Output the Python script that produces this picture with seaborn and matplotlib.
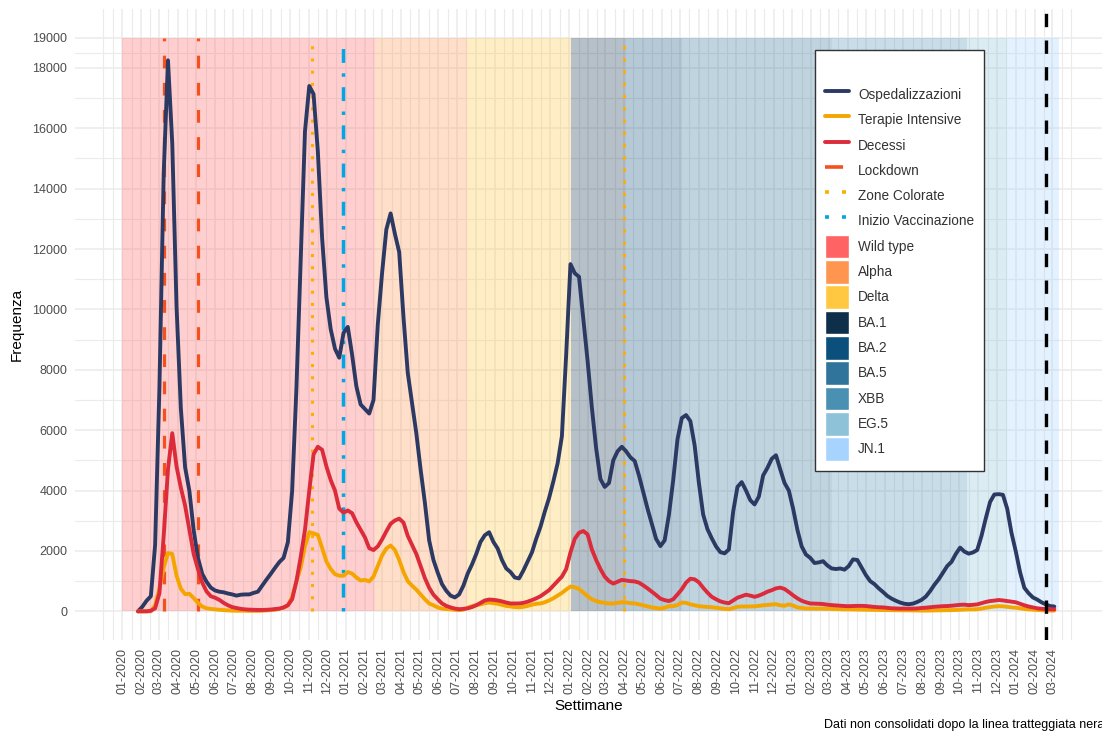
import pandas as pd
import seaborn as sns
import matplotlib.pyplot as plt
from matplotlib.lines import Line2D
from matplotlib.patches import Patch

sns.set_theme(style="white")
plt.rcParams['font.family'] = ['Liberation Sans', 'DejaVu Sans']

# weekly values, first week 2020-01-27
first_week = "2020-01-27"

ospedalizzazioni = [
    0, 150, 350, 500, 2200, 7400, 14500, 18250, 15500, 10100,
    6740, 4770, 3990, 2680, 1770, 1240, 980, 785, 690, 650,
    630, 590, 560, 520, 550, 560, 560, 610, 650, 850,
    1050, 1240, 1440, 1630, 1770, 2290, 3990, 7390, 11700, 15900,
    17400, 17130, 15240, 12360, 10400, 9350, 8700, 8400, 9220, 9420,
    8500, 7450, 6850, 6700, 6550, 7000, 9500, 11200, 12650, 13180,
    12500, 11900, 9750, 7900, 6900, 5900, 4700, 3600, 2350, 1700,
    1280, 900, 680, 520, 460, 560, 850, 1250, 1550, 1900,
    2300, 2520, 2620, 2300, 2080, 1700, 1420, 1300, 1120, 1090,
    1350, 1650, 1950, 2400, 2800, 3300, 3750, 4300, 4900, 5800,
    8500, 11500, 11200, 11080, 9700, 8300, 6750, 5400, 4380, 4120,
    4250, 5000, 5300, 5450, 5300, 5100, 4980, 4500, 3950, 3400,
    2900, 2400, 2160, 2350, 3200, 4350, 5700, 6400, 6500, 6300,
    5500, 4250, 3200, 2720, 2420, 2150, 1960, 1920, 2050, 3300,
    4120, 4280, 4000, 3680, 3540, 3800, 4500, 4750, 5050, 5170,
    4700, 4250, 4000, 3400, 2700, 2150, 1880, 1770, 1600, 1620,
    1660, 1520, 1420, 1400, 1420, 1380, 1500, 1720, 1700, 1450,
    1200, 1000, 900, 760, 640, 510, 420, 350, 290, 250,
    235, 255, 310, 380, 490, 670, 880, 1060, 1280, 1500,
    1640, 1900, 2110, 1980, 1910, 1950, 2030, 2500, 3080, 3620,
    3870, 3880, 3860, 3400, 2600, 1990, 1300, 780, 600, 460,
    390, 300, 230, 175, 160,
]

terapie_intensive = [
    0, 0, 0, 0, 200, 750, 1450, 1930, 1900, 1180,
    750, 570, 580, 440, 280, 160, 100, 80, 65, 50,
    40, 30, 25, 20, 20, 20, 15, 15, 15, 20,
    30, 40, 50, 80, 120, 200, 480, 1000, 1450, 2160,
    2620, 2580, 2530, 2100, 1650, 1400, 1230, 1180, 1180, 1300,
    1250, 1120, 1020, 1040, 990, 1150, 1500, 1850, 2080, 2180,
    2030, 1700, 1300, 1000, 850, 720, 560, 400, 260, 200,
    130, 90, 75, 65, 50, 40, 55, 120, 170, 210,
    230, 270, 290, 270, 250, 215, 180, 160, 140, 130,
    150, 180, 220, 250, 260, 300, 360, 430, 520, 610,
    720, 820, 800, 740, 620, 500, 400, 340, 300, 280,
    260, 260, 280, 300, 290, 270, 260, 230, 200, 160,
    130, 110, 90, 120, 170, 170, 210, 290, 280, 230,
    200, 170, 155, 145, 135, 120, 100, 85, 70, 110,
    150, 160, 160, 160, 165, 180, 200, 210, 225, 235,
    200, 185, 230, 190, 130, 110, 95, 90, 90, 90,
    90, 85, 80, 75, 70, 65, 65, 60, 58, 55,
    52, 50, 48, 45, 42, 40, 38, 35, 32, 30,
    28, 27, 25, 25, 25, 27, 30, 32, 35, 38,
    40, 45, 50, 60, 65, 65, 70, 90, 120, 140,
    160, 170, 165, 150, 130, 120, 100, 80, 65, 55,
    45, 35, 30, 25, 25,
]

decessi = [
    0, 0, 0, 20, 100, 600, 2500, 4700, 5900, 4800,
    4100, 3500, 2700, 1900, 1400, 950, 660, 500, 450, 380,
    280, 200, 140, 110, 80, 65, 55, 50, 45, 45,
    50, 60, 75, 90, 130, 200, 400, 1000, 1800, 2700,
    4000, 5200, 5450, 5350, 4800, 4350, 4000, 3400, 3270, 3340,
    3250, 2950, 2700, 2450, 2090, 2030, 2150, 2380, 2650, 2900,
    3010, 3070, 2940, 2500, 2200, 1900, 1500, 1100, 780, 550,
    400, 260, 180, 130, 90, 70, 80, 100, 140, 200,
    280, 360, 390, 380, 360, 330, 290, 260, 260, 260,
    280, 320, 370, 430, 500, 600, 700, 850, 1000, 1150,
    1400, 1950, 2400, 2600, 2660, 2550, 2050, 1700, 1400, 1150,
    1000, 920, 980, 1040, 1020, 1000, 990, 950, 860, 760,
    650, 540, 420, 370, 340, 400, 560, 730, 950, 1080,
    1060, 960, 780, 620, 480, 400, 330, 290, 270, 360,
    450, 500, 550, 520, 480, 520, 580, 650, 700, 760,
    785, 740, 640, 530, 430, 350, 300, 260, 255, 250,
    240, 220, 205, 195, 185, 175, 170, 175, 180, 180,
    175, 160, 145, 135, 130, 115, 100, 95, 90, 90,
    90, 90, 95, 110, 120, 135, 150, 160, 170, 175,
    185, 200, 215, 220, 205, 215, 230, 270, 310, 340,
    355, 375, 360, 340, 320, 300, 250, 200, 160, 130,
    100, 85, 75, 70, 65,
]

series_colors = {"Ospedalizzazioni": "#2C3A63",
                 "Terapie Intensive": "#F5A500",
                 "Decessi": "#DC2B3B"}

# variant periods (background bands)
variant_names = ["Wild type", "Alpha", "Delta", "BA.1", "BA.2", "BA.5", "XBB", "EG.5", "JN.1"]
variant_start = ["2020-01-01", "2021-02-18", "2021-07-18", "2022-01-04", "2022-04-04",
                 "2022-07-05", "2023-03-07", "2023-10-13", "2023-12-18"]
variant_end = ["2021-02-18", "2021-07-18", "2022-01-04", "2022-04-04", "2022-07-05",
               "2023-03-07", "2023-10-13", "2023-12-18", "2024-03-11"]
variant_colors = ["#FF6363", "#FF9650", "#FFC840", "#0D2F4A", "#0B4F7D",
                  "#30739B", "#4A90B2", "#8EC2D8", "#A6D4FF"]
band_top = 19000

# events
lockdown_dates = ["2020-03-09", "2020-05-04"]
zone_colorate_dates = ["2020-11-06", "2022-04-01"]
vaccinazione_date = "2020-12-27"
non_consolidati_date = "2024-02-19"

y_major = [0, 2000, 4000, 6000, 8000, 10000, 12000, 14000, 16000, 18000, 19000]
y_minor = [1000, 3000, 5000, 7000, 9000, 11000, 13000, 15000, 17000, 18500]

weeks = pd.date_range(first_week, periods=len(ospedalizzazioni), freq="7D")
df = pd.DataFrame({
    "Settimana": weeks,
    "Ospedalizzazioni": ospedalizzazioni,
    "Terapie Intensive": terapie_intensive,
    "Decessi": decessi,
}).melt(id_vars="Settimana", var_name="Serie", value_name="Frequenza")

fig = plt.figure(figsize=(11.02, 7.35), dpi=100)
ax = fig.add_axes([75 / 1102, 95 / 735, 1027 / 1102, 631 / 735])

# background bands
for start, end, color in zip(variant_start, variant_end, variant_colors):
    ax.fill_between(pd.to_datetime([start, end]), 0, band_top,
                    color=color, alpha=0.3, lw=0, zorder=1)

sns.lineplot(data=df, x="Settimana", y="Frequenza", hue="Serie",
             palette=series_colors, linewidth=2.8, legend=False, ax=ax, zorder=4)

ax.vlines(pd.to_datetime(lockdown_dates), 0, band_top, color="#F4511E",
          lw=2.3, linestyles=[(0, (4, 4.5))], zorder=3)
ax.vlines(pd.to_datetime(zone_colorate_dates), 0, band_top, color="#FFAE00",
          lw=2.2, linestyles=[(0, (1, 3))], zorder=3)
ax.vlines(pd.to_datetime([vaccinazione_date]), 0, band_top, color="#00A6E6",
          lw=2.5, linestyles=[(0, (1, 3, 4, 3))], zorder=3)
ax.axvline(pd.to_datetime(non_consolidati_date), color="black", lw=2.4,
           ls=(0, (4, 4)), zorder=5)

# axes, ticks, grid
ax.set_xlim(pd.Timestamp("2019-10-16"), pd.Timestamp("2024-05-21"))
ax.set_ylim(-950, 19950)

month_ticks = pd.date_range("2020-01-01", "2024-03-01", freq="MS")
edges = pd.date_range("2019-12-01", "2024-04-01", freq="MS")
mids = edges[:-1] + (edges[1:] - edges[:-1]) / 2
x_minor = list(mids) + [edges[0], edges[-1]]
ax.set_xticks(month_ticks)
ax.set_xticklabels(month_ticks.strftime("%m-%Y"), rotation=90)
ax.set_xticks(x_minor, minor=True)
ax.set_yticks(y_major)
ax.set_yticklabels([str(v) for v in y_major])
ax.set_yticks(y_minor, minor=True)

ax.set_axisbelow(True)
ax.grid(which="major", color="#EBEBEB", lw=1.1)
ax.grid(which="minor", color="#EBEBEB", lw=0.8)
ax.tick_params(which="both", length=0, labelsize=9, labelcolor="#4D4D4D")
ax.tick_params(axis="y", pad=5.5)
ax.tick_params(axis="x", pad=6)
for side in ["top", "right", "bottom", "left"]:
    ax.spines[side].set_visible(False)

ax.set_xlabel("Settimane", fontsize=11, color="black", labelpad=3)
ax.set_ylabel("Frequenza", fontsize=11, color="black", labelpad=6)

# legend
handles = [
    Line2D([0], [0], color=series_colors["Ospedalizzazioni"], lw=2.8),
    Line2D([0], [0], color=series_colors["Terapie Intensive"], lw=2.8),
    Line2D([0], [0], color=series_colors["Decessi"], lw=2.8),
    Line2D([0], [0], color="#F4511E", lw=2.6, ls=(0, (5, 4))),
    Line2D([0], [0], color="#FFAE00", lw=2.6, ls=(0, (1.1, 3.6))),
    Line2D([0], [0], color="#00A6E6", lw=2.6, ls=(0, (1.1, 3.6))),
]
labels = ["Ospedalizzazioni", "Terapie Intensive", "Decessi", "Lockdown",
          "Zone Colorate", "Inizio Vaccinazione"]
for name, color in zip(variant_names, variant_colors):
    handles.append(Patch(facecolor=color, edgecolor="white", lw=1))
    labels.append(name)

leg = ax.legend(handles, labels, loc="upper left",
                bbox_to_anchor=(815 / 1102, 1 - 50 / 735), bbox_transform=fig.transFigure,
                borderaxespad=0, frameon=True, fancybox=False, framealpha=1,
                edgecolor="#333333", fontsize=9.8, title=" ", title_fontsize=16,
                handlelength=1.75, handleheight=2.3, labelspacing=0.12,
                handletextpad=0.66, borderpad=0.75)
leg.get_frame().set_linewidth(1.0)
for t in leg.get_texts():
    t.set_color("#333333")
leg.set_zorder(10)

fig.text(1.002, 1 - 725 / 735, "Dati non consolidati dopo la linea tratteggiata nera",
         ha="right", va="center", fontsize=9, color="black")

plt.savefig("out.png", dpi=100)
